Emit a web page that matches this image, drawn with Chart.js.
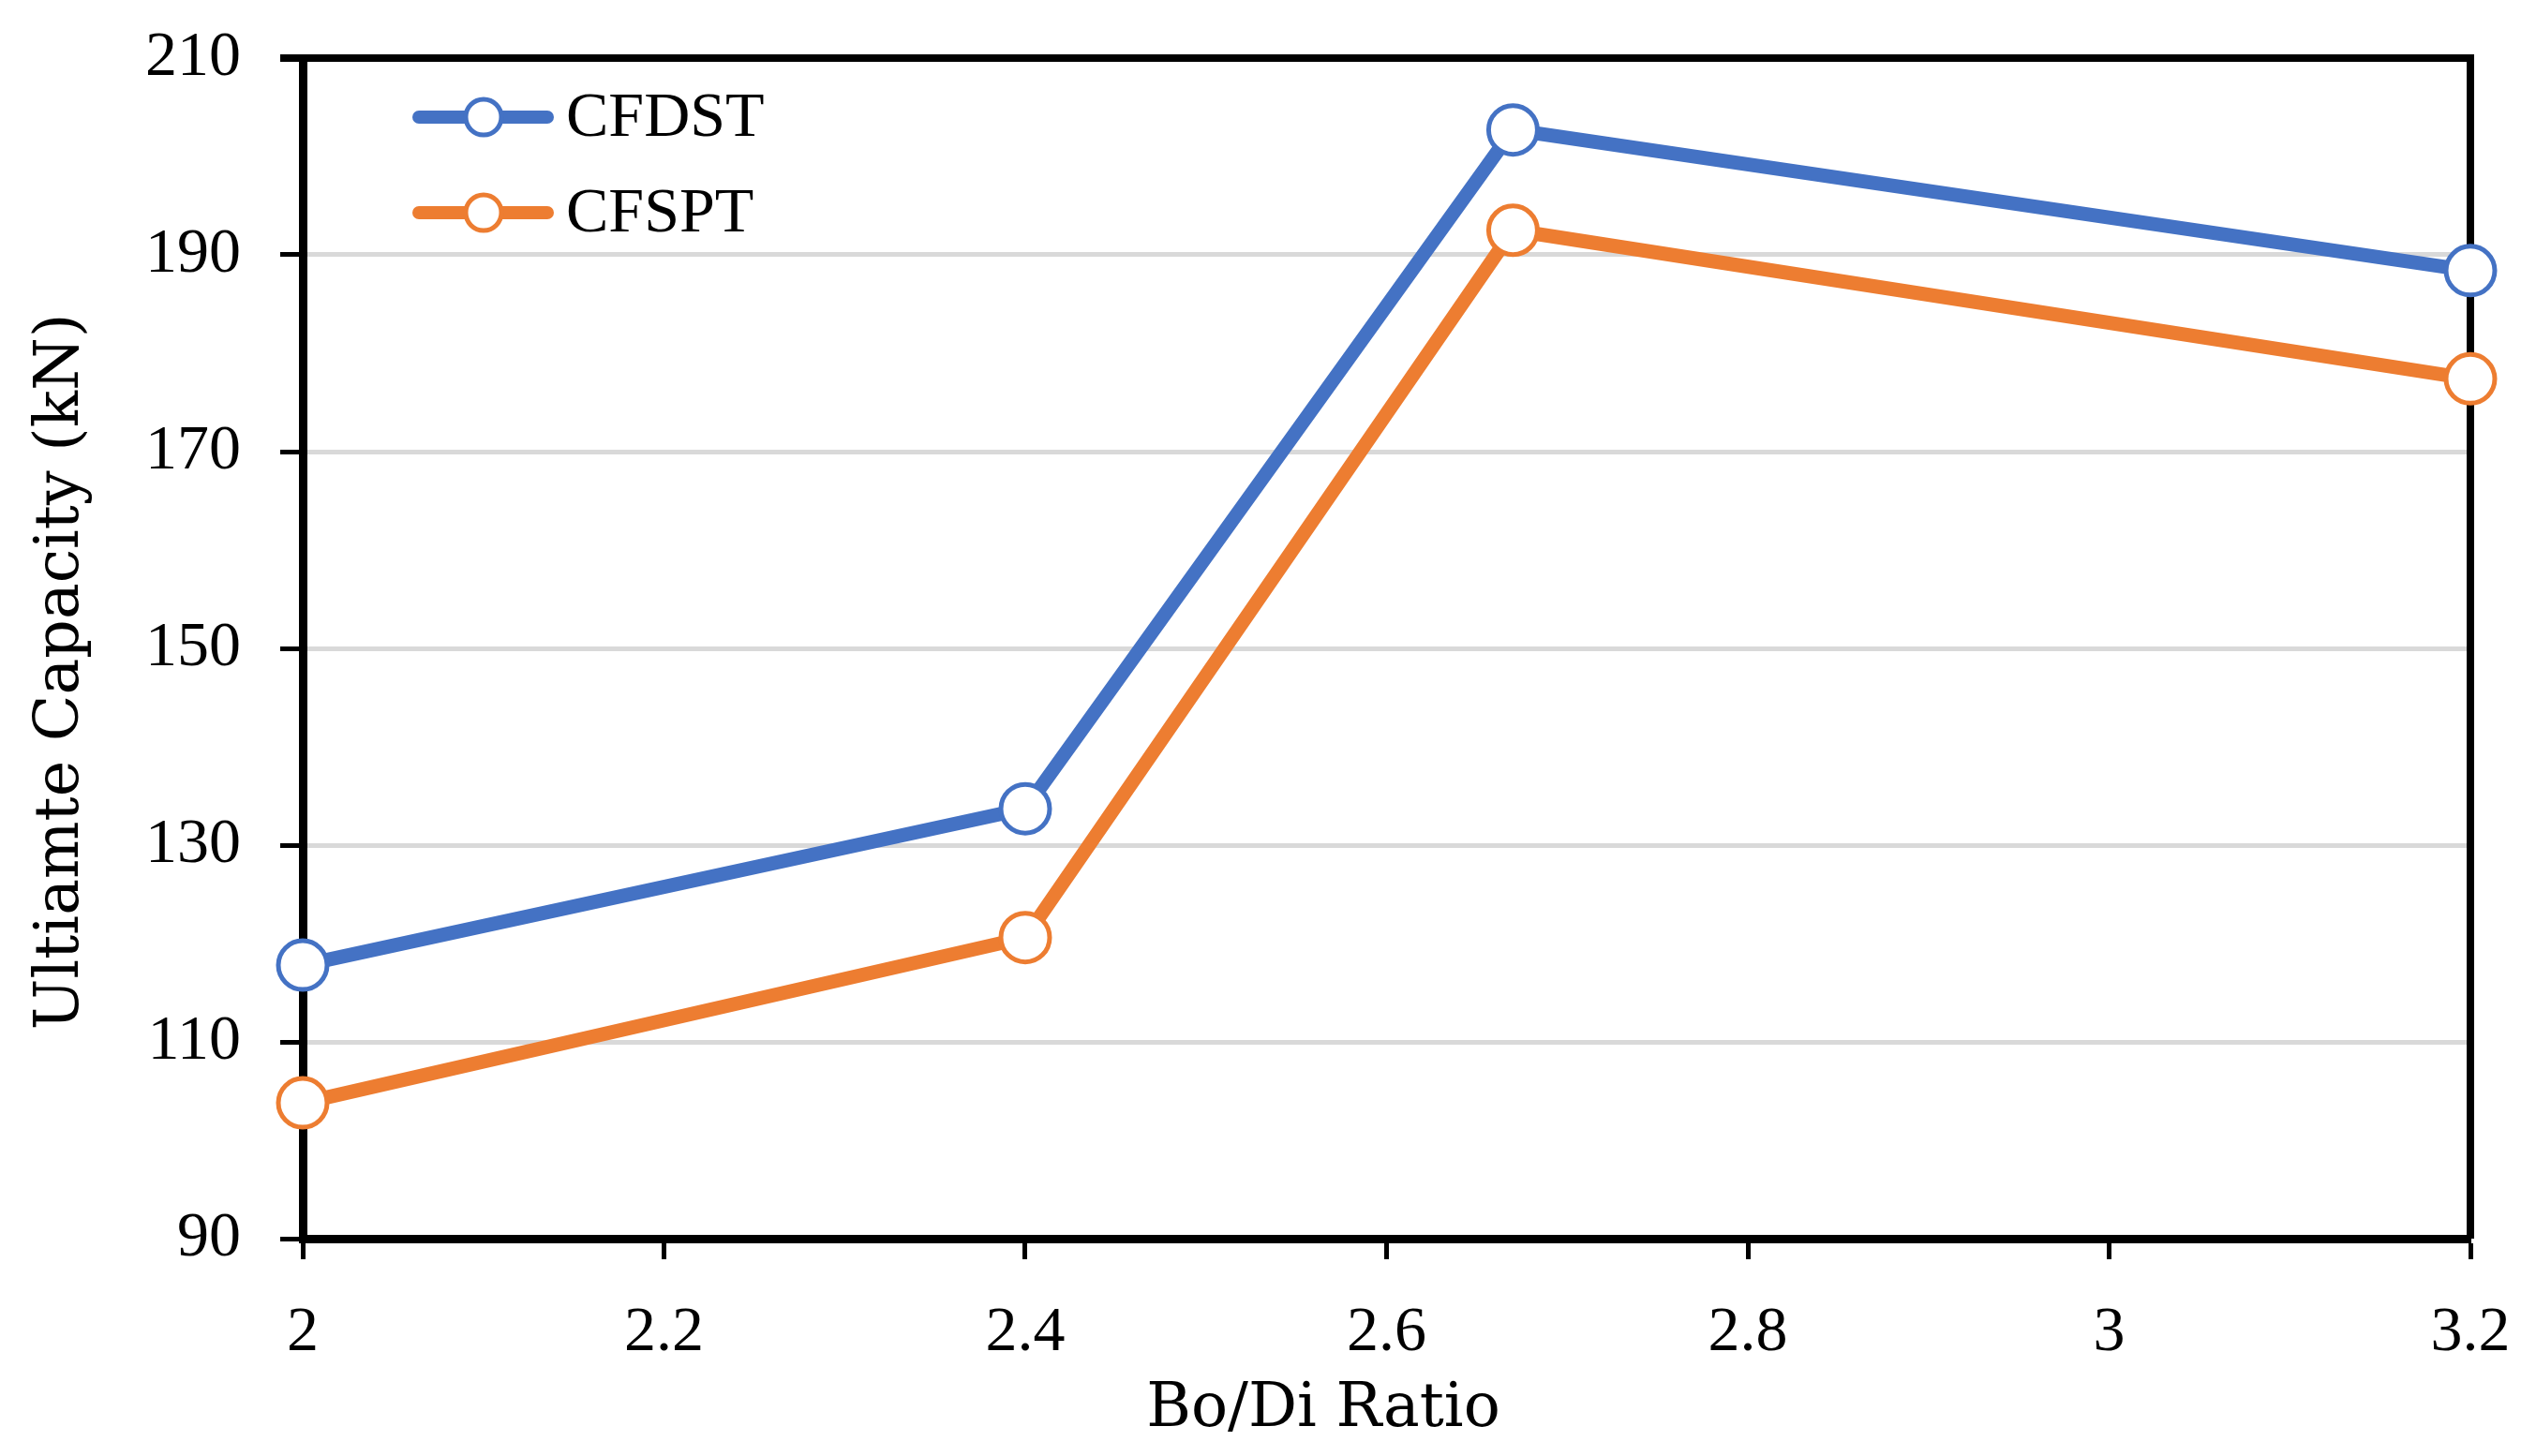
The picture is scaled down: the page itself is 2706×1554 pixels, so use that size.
<!DOCTYPE html>
<html>
<head>
<meta charset="utf-8">
<script src="https://cdn.jsdelivr.net/npm/chart.js@4/dist/chart.umd.min.js"></script>
<style>
  html, body { margin: 0; padding: 0; background: #fff; }
  #chart { display: block; }
</style>
</head>
<body>
<canvas id="chart" width="2706" height="1554"></canvas>
<script>
// values
const ratios = [2, 2.4, 2.67, 3.2];
const cfdst = [117.8, 133.7, 202.7, 188.4];
const cfspt = [103.8, 120.6, 192.5, 177.4];
const seriesNames = ['CFDST', 'CFSPT'];
const seriesColors = ['#4472C4', '#ED7D31'];
const xTitle = 'Bo/Di Ratio';
const yTitle = 'Ultiamte Capacity (kN)';

const TEXT_FONT = "'DejaVu Serif', serif";
const NUM_FONT = "'Liberation Serif', serif";

function toPoints(xs, ys) {
  return xs.map((x, i) => ({ x: x, y: ys[i] }));
}

// top and right frame lines of the plot box
const frame = {
  id: 'frame',
  beforeDatasetsDraw(chart) {
    const a = chart.chartArea;
    const ctx = chart.ctx;
    ctx.save();
    ctx.strokeStyle = '#000';
    ctx.lineWidth = 8;
    ctx.beginPath();
    ctx.moveTo(a.left - 24, a.top);
    ctx.lineTo(a.right + 4, a.top);
    ctx.moveTo(a.right, a.top);
    ctx.lineTo(a.right, a.bottom);
    ctx.stroke();
    ctx.restore();
  }
};

// axis titles placed like the original
const titles = {
  id: 'titles',
  afterDraw(chart) {
    const ctx = chart.ctx;
    ctx.save();
    ctx.fillStyle = '#000';
    ctx.font = '65px ' + TEXT_FONT;
    ctx.textAlign = 'center';
    ctx.textBaseline = 'middle';
    ctx.fillText(xTitle, 1412, 1505);
    ctx.translate(66, 717);
    ctx.rotate(-Math.PI / 2);
    ctx.fillText(yTitle, 0, 0);
    ctx.restore();
  }
};

// legend inside the plot, line with an open marker
const insideLegend = {
  id: 'insideLegend',
  afterDatasetsDraw(chart) {
    const ctx = chart.ctx;
    const rowY = [125, 227];
    ctx.save();
    chart.data.datasets.forEach((ds, i) => {
      const y = rowY[i];
      ctx.strokeStyle = ds.borderColor;
      ctx.lineWidth = 14;
      ctx.lineCap = 'round';
      ctx.beginPath();
      ctx.moveTo(447, y);
      ctx.lineTo(584, y);
      ctx.stroke();
      ctx.fillStyle = '#fff';
      ctx.lineWidth = 5;
      ctx.beginPath();
      ctx.arc(516, y, 19, 0, Math.PI * 2);
      ctx.fill();
      ctx.stroke();
      ctx.fillStyle = '#000';
      ctx.font = '68px ' + NUM_FONT;
      ctx.textBaseline = 'middle';
      ctx.textAlign = 'left';
      ctx.fillText(ds.label, 604, y + 2);
    });
    ctx.restore();
  }
};

function makeDataset(i, ys) {
  return {
    label: seriesNames[i],
    data: toPoints(ratios, ys),
    borderColor: seriesColors[i],
    backgroundColor: '#fff',
    borderWidth: 15,
    pointRadius: 26,
    pointHoverRadius: 26,
    pointBorderWidth: 5,
    pointBackgroundColor: '#fff',
    pointBorderColor: seriesColors[i],
    clip: false,
    tension: 0
  };
}

function init() {
  const ctx = document.getElementById('chart');
  new Chart(ctx, {
    type: 'line',
    data: {
      datasets: [makeDataset(0, cfdst), makeDataset(1, cfspt)]
    },
    options: {
      responsive: false,
      devicePixelRatio: 1,
      animation: false,
      layout: { padding: { top: 62, right: 70, left: 0, bottom: 0 } },
      plugins: {
        legend: { display: false },
        tooltip: { enabled: false }
      },
      scales: {
        x: {
          type: 'linear',
          min: 2,
          max: 3.2,
          afterFit: (s) => {
            s.height = 232;
            s.paddingLeft = 0;
            s.paddingRight = 0;
          },
          ticks: {
            stepSize: 0.2,
            padding: 38,
            color: '#000',
            font: { family: NUM_FONT, size: 68 },
            callback: (v) => Math.round(v * 10) / 10
          },
          grid: {
            drawOnChartArea: false,
            drawTicks: true,
            tickLength: 22,
            tickColor: '#000',
            tickWidth: 5
          },
          border: { color: '#000', width: 9 }
        },
        y: {
          min: 90,
          max: 210,
          afterFit: (s) => {
            s.width = 323;
            s.paddingTop = 0;
            s.paddingBottom = 0;
          },
          ticks: {
            stepSize: 20,
            padding: 42,
            color: '#000',
            font: { family: NUM_FONT, size: 68 }
          },
          grid: {
            color: '#d9d9d9',
            lineWidth: 5,
            drawTicks: true,
            tickLength: 24,
            tickColor: '#000',
            tickWidth: 5
          },
          border: { color: '#000', width: 9 }
        }
      }
    },
    plugins: [frame, insideLegend, titles]
  });
}

document.addEventListener('DOMContentLoaded', init);
</script>
</body>
</html>
